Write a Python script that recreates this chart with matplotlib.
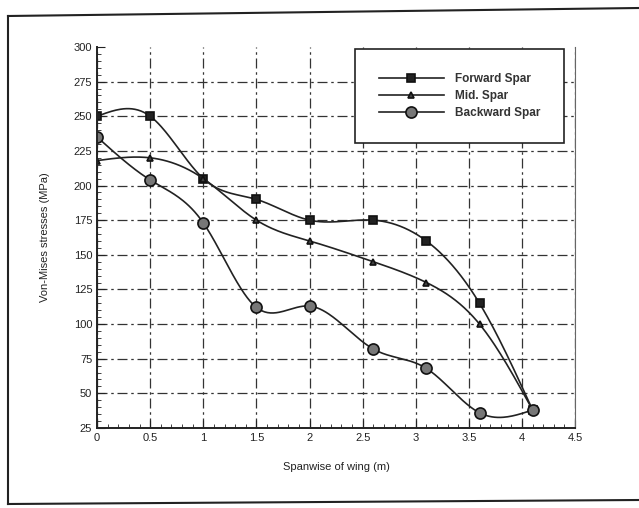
import numpy as np
import matplotlib
matplotlib.use("Agg")
import matplotlib.pyplot as plt
from matplotlib.ticker import MultipleLocator
from matplotlib.lines import Line2D

# spanwise stations (m)
span = [0, 0.5, 1.0, 1.5, 2.0, 2.6, 3.1, 3.6, 4.1]
# Von-Mises stresses (MPa)
forward_spar = [250, 250, 205, 190, 175, 175, 160, 115, 38]
mid_spar = [218, 220, 205, 175, 160, 145, 130, 100, 38]
backward_spar = [235, 204, 173, 112, 113, 82, 68, 36, 38]

x_ticks = [0, 0.5, 1, 1.5, 2, 2.5, 3, 3.5, 4, 4.5]
x_tick_labels = ["0", "0.5", "1", "1.5", "2", "2.5", "3", "3.5", "4", "4.5"]
y_ticks = [25, 50, 75, 100, 125, 150, 175, 200, 225, 250, 275, 300]


def smooth(x, y, n=300):
    # natural cubic spline through the points, for drawing the curve
    x = np.asarray(x, float)
    y = np.asarray(y, float)
    k = len(x)
    h = np.diff(x)
    A = np.zeros((k, k))
    r = np.zeros(k)
    A[0, 0] = A[-1, -1] = 1
    for i in range(1, k - 1):
        A[i, i - 1] = h[i - 1]
        A[i, i] = 2 * (h[i - 1] + h[i])
        A[i, i + 1] = h[i]
        r[i] = 6 * ((y[i + 1] - y[i]) / h[i] - (y[i] - y[i - 1]) / h[i - 1])
    m = np.linalg.solve(A, r)
    xs = np.linspace(x[0], x[-1], n)
    idx = np.clip(np.searchsorted(x, xs) - 1, 0, k - 2)
    x0, x1 = x[idx], x[idx + 1]
    hh = x1 - x0
    a = (x1 - xs) / hh
    b = (xs - x0) / hh
    ys = a * y[idx] + b * y[idx + 1] + ((a ** 3 - a) * m[idx] + (b ** 3 - b) * m[idx + 1]) * hh ** 2 / 6
    return xs, ys


plt.rcParams['font.family'] = ['Liberation Sans', 'DejaVu Sans']

fig = plt.figure(figsize=(6.39, 5.08), dpi=100)
ax = fig.add_axes([0.152, 0.1575, 0.748, 0.75])

# outer frame of the scanned figure (no right edge on the scan)
W, H = 639.0, 508.0
frame = dict(transform=fig.transFigure, color="#222222", linewidth=1.5)
fig.lines.append(Line2D([8 / W, 1.0], [1 - 16 / H, 1 - 8 / H], **frame))
fig.lines.append(Line2D([8 / W, 8 / W], [1 - 16 / H, 1 - 504 / H], **frame))
fig.lines.append(Line2D([8 / W, 1.0], [1 - 504 / H, 1 - 500 / H], **frame))

series = [
    ("Forward Spar", forward_spar, dict(marker="s", markersize=5.5, markerfacecolor="#222222")),
    ("Mid. Spar", mid_spar, dict(marker="^", markersize=4, markerfacecolor="#444444")),
    ("Backward Spar", backward_spar, dict(marker="o", markersize=8, markerfacecolor="#777777")),
]
for name, vals, style in series:
    xs, ys = smooth(span, vals)
    ax.plot(xs, ys, color="#222222", linewidth=1.2)
    ax.plot(span, vals, linestyle="none", markeredgecolor="#111111", markeredgewidth=1.2, **style)
    ax.plot([], [], color="#222222", linewidth=1.2, label=name,
            markeredgecolor="#111111", markeredgewidth=1.2, **style)

ax.set_xlim(0, 4.5)
ax.set_ylim(25, 300)
ax.set_xticks(x_ticks)
ax.set_xticklabels(x_tick_labels)
ax.set_yticks(y_ticks)
ax.xaxis.set_minor_locator(MultipleLocator(0.1))
ax.yaxis.set_minor_locator(MultipleLocator(5))
ax.tick_params(which="both", direction="in", labelsize=8, colors="#222222")
ax.tick_params(which="major", length=6)
ax.tick_params(which="minor", length=3)
ax.grid(True, which="major", color="#333333", linestyle=(0, (8, 3, 2, 3)), linewidth=0.9)
ax.yaxis.get_gridlines()[-1].set_visible(False)

ax.spines["top"].set_visible(False)
ax.spines["right"].set_linewidth(0.8)
ax.spines["right"].set_color("#666666")
for s in ["left", "bottom"]:
    ax.spines[s].set_linewidth(1.4)
    ax.spines[s].set_color("#222222")

ax.set_xlabel("Spanwise of wing (m)", fontsize=8, color="#222222", labelpad=14)
ax.set_ylabel("Von-Mises stresses (MPa)", fontsize=8, color="#222222", labelpad=17)

leg = ax.legend(loc="upper right", bbox_to_anchor=(0.99, 1.01), fontsize=8.5,
                frameon=True, fancybox=False, edgecolor="#222222", handlelength=5.5,
                handletextpad=1.0, borderpad=2.0, labelspacing=0.45, framealpha=1)
leg.get_frame().set_linewidth(1.2)
for t in leg.get_texts():
    t.set_fontweight("bold")
    t.set_color("#333333")

fig.savefig("out.png", dpi=100)
